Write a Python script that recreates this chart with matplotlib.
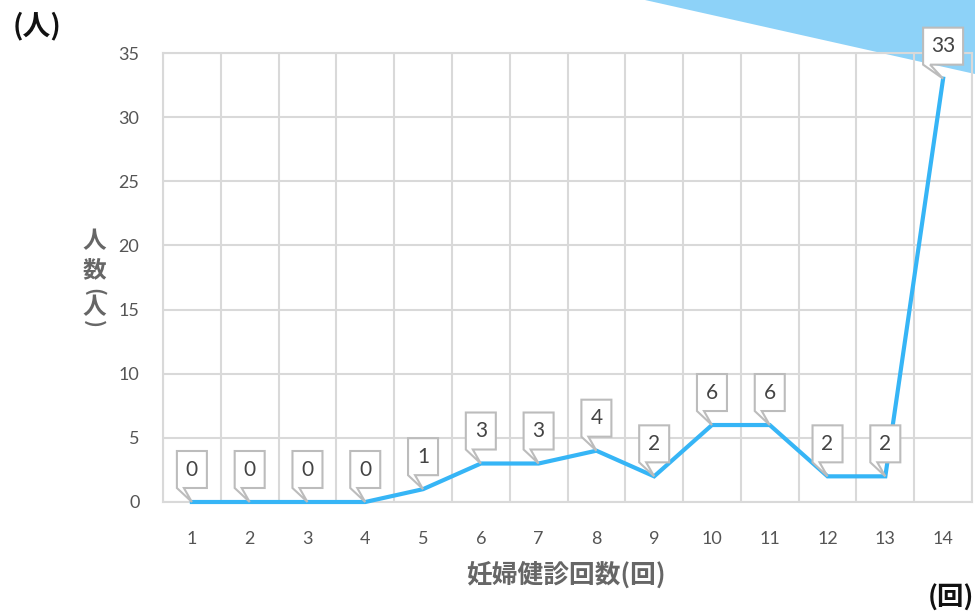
import matplotlib.pyplot as plt
from matplotlib import transforms
from matplotlib.patches import Polygon

# 妊婦健診の受診回数ごとの人数
visits = list(range(1, 15))
people = [0, 0, 0, 0, 1, 3, 3, 4, 2, 6, 6, 2, 2, 33]
y_ticks = [0, 5, 10, 15, 20, 25, 30, 35]

LINE_COLOR = "#36b5f6"
GRID_COLOR = "#d9d9d9"
TICK_COLOR = "#555555"
LABEL_COLOR = "#666666"
NUM_FONT = "Lato"
JP_FONT = ["Noto Sans CJK JP", "DejaVu Sans"]

W, H = 975, 613
fig = plt.figure(figsize=(W / 100, H / 100), dpi=100)


def px(x, y):
    # pixel position measured from the top-left corner -> figure fraction
    return x / W, 1 - y / H


# decorative band in the upper right corner, kept behind the axes
band = Polygon([px(645, 0), px(W, 0), px(W, 74)], closed=True,
               transform=fig.transFigure, facecolor="#8dd2f8",
               edgecolor="none", zorder=-1)
fig.patches.append(band)

ax = fig.add_axes([163 / W, 1 - 502 / H, (972 - 163) / W, (502 - 53) / H])
ax.patch.set_alpha(0)

ax.plot(visits, people, color=LINE_COLOR, lw=3, solid_joinstyle="miter",
        zorder=3, clip_on=False)

ax.set_xlim(0.5, 14.5)
ax.set_ylim(0, 35)
ax.set_xticks(visits)
ax.set_xticks([v + 0.5 for v in [0] + visits], minor=True)
ax.set_yticks(y_ticks)
ax.grid(which="minor", axis="x", color=GRID_COLOR, lw=1.5)
ax.grid(which="major", axis="y", color=GRID_COLOR, lw=1.5)
ax.tick_params(which="both", length=0)
ax.tick_params(axis="x", pad=21, labelsize=13, labelcolor=TICK_COLOR)
ax.tick_params(axis="y", pad=17, labelsize=13, labelcolor=TICK_COLOR)
for lab in ax.get_xticklabels() + ax.get_yticklabels():
    lab.set_fontfamily(NUM_FONT)
for sp in ax.spines.values():
    sp.set_color(GRID_COLOR)
    sp.set_linewidth(1.5)


def callout(x, y, text):
    # speech-bubble label whose tail points at the data point (sizes in pixels)
    w = 30 if len(text) == 1 else 40
    gap, h = 14, 37
    trans = fig.dpi_scale_trans + transforms.ScaledTranslation(x, y, ax.transData)
    verts = [(-w / 2, gap), (0, 0), (-w / 2 + 7, gap), (w / 2, gap),
             (w / 2, gap + h), (-w / 2, gap + h)]
    verts = [(vx / 100, vy / 100) for vx, vy in verts]
    ax.add_patch(Polygon(verts, closed=True, transform=trans, facecolor="white",
                         edgecolor="#bcbcbc", lw=1.5, zorder=5, clip_on=False))
    ax.text(0, (gap + h / 2) / 100, text, transform=trans, ha="center",
            va="center", fontsize=15, color="#444444", family=NUM_FONT,
            zorder=6, clip_on=False)


for v, p in zip(visits, people):
    callout(v, p, str(p))

# vertical y-axis title, one character per line
ylab = [("人", 241, 0, 17), ("数", 270, 0, 17), ("(", 292, 270, 15),
        ("人", 307, 0, 17), (")", 324, 270, 15)]
for ch, yy, rot, size in ylab:
    fig.text(*px(94, yy), ch, ha="center", va="center", fontsize=size,
             rotation=rot, fontweight="bold", color=LABEL_COLOR, family=JP_FONT)

fig.text(*px(566, 575), "妊婦健診回数(回)", ha="center", va="center",
         fontsize=18.5, fontweight="bold", color=LABEL_COLOR, family=JP_FONT)
fig.text(*px(37, 26), "(人)", ha="center", va="center", fontsize=20,
         fontweight="bold", color="#111111", family=JP_FONT)
fig.text(*px(951, 598), "(回)", ha="center", va="center", fontsize=19,
         fontweight="bold", color="#111111", family=JP_FONT)

fig.savefig("out.png", dpi=100)
